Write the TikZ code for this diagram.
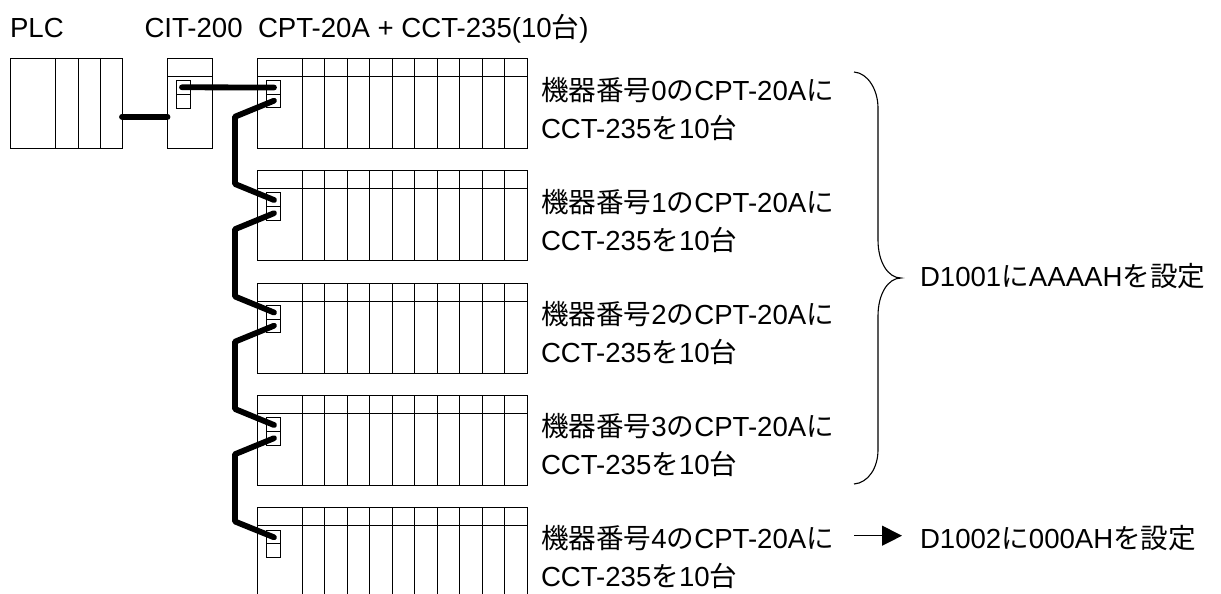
\documentclass[tikz,border=0pt]{standalone}
\usepackage{fontspec}
\setmainfont{Liberation Sans}
\newfontfamily\cjk{Noto Sans CJK JP}
\usetikzlibrary{arrows.meta}
\newcommand{\jp}[1]{{\cjk #1}}
\tikzset{
  x=1pt,y=-1pt,
  part/.style={draw=black,line width=0.9pt},
  cable/.style={draw=black,line width=5.8pt,line cap=round,line join=round},
  label/.style={anchor=base west,inner sep=0pt,outer sep=0pt,font=\fontsize{27.6}{32}\selectfont},
  brace/.style={draw=black,line width=1.1pt},
  pointer/.style={draw=black,line width=1.1pt,-{Triangle[length=20pt,width=20pt]}}
}
\begin{document}
\begin{tikzpicture}
\useasboundingbox (0,0) rectangle (1221,594);
% PLC
\draw[part] (10,58) rectangle (122,148);
\foreach \x in {55,78,100} \draw[part] (\x,58) -- (\x,148);
\coordinate (plcport) at (122,116.7);
% CIT-200
\draw[part] (167,58) rectangle (212,148);
\draw[part] (167,76) -- (212,76);
\draw[part] (176,80.5) rectangle (190,108);
\draw[part] (176,94) -- (190,94);
\coordinate (citin) at (167.5,116.7);
\coordinate (citout) at (182,87.3);
% Racks
\foreach \i/\t in {0/58,1/170.5,2/283,3/395.5}{
  \draw[part] (257,\t) rectangle (527,\t+90);
}
\draw[part] (257,594) -- (257,507.8) -- (527,507.8) -- (527,594);
\foreach \i/\t/\b in {0/58/148,1/170.5/260.5,2/283/373,3/395.5/485.5,4/507.8/594}{
  \draw[part] (257,\t+18) -- (527,\t+18);
  \foreach \x in {302,324,347,369,392,414,437,459,482,504}
    \draw[part] (\x,\t) -- (\x,\b);
  \draw[part] (266,\t+22.3) rectangle (280,\t+49.5);
  \draw[part] (266,\t+36) -- (280,\t+36);
  \coordinate (in\i) at (274,\t+29.5);
  \coordinate (out\i) at (274,\t+42.7);
  \coordinate (a\i) at (235,\t+58.7);
  \coordinate (b\i) at (235,\t+126);
}
% Cables
\draw[cable] (plcport) -- (citin);
\draw[cable] (citout) -- (in0);
\foreach \i/\j in {0/1,1/2,2/3,3/4}
  \draw[cable] (out\i) -- (a\i) -- (b\i) -- (in\j);
% Texts
\node[label] (tplc) at (10,38) {PLC};
\node[label] (tcit) at (144.5,38) {CIT-200};
\node[label] (tcpt) at (258,38) {CPT-20A + CCT-235(10\jp{台})};
\foreach \i/\y/\n in {0/100.7/0,1/212.7/1,2/324.7/2,3/436.7/3,4/548.7/4}{
  \node[label] (la\i) at (541,\y) {\jp{機器番号}\n\jp{の}CPT-20A\jp{に}};
  \node[label] (lb\i) at (541,\y+37.5) {CCT-235\jp{を}10\jp{台}};
}
\node[label] (d1001) at (920,286.5) {D1001\jp{に}AAAAH\jp{を設定}};
\node[label] (d1002) at (920,548.7) {D1002\jp{に}000AH\jp{を設定}};
% Brace
\draw[brace] (854,72) .. controls (868,73) and (878,90) .. (878,108)
  -- (878,240) .. controls (878,262) and (888,278) .. (901,278)
  .. controls (888,278) and (878,294) .. (878,316)
  -- (878,450) .. controls (878,468) and (868,483) .. (854,484);
% Arrow
\coordinate (arrs) at (854,535.7);
\coordinate (arre) at (902,535.7);
\draw[pointer] (arrs) -- (arre);
\end{tikzpicture}
\end{document}
